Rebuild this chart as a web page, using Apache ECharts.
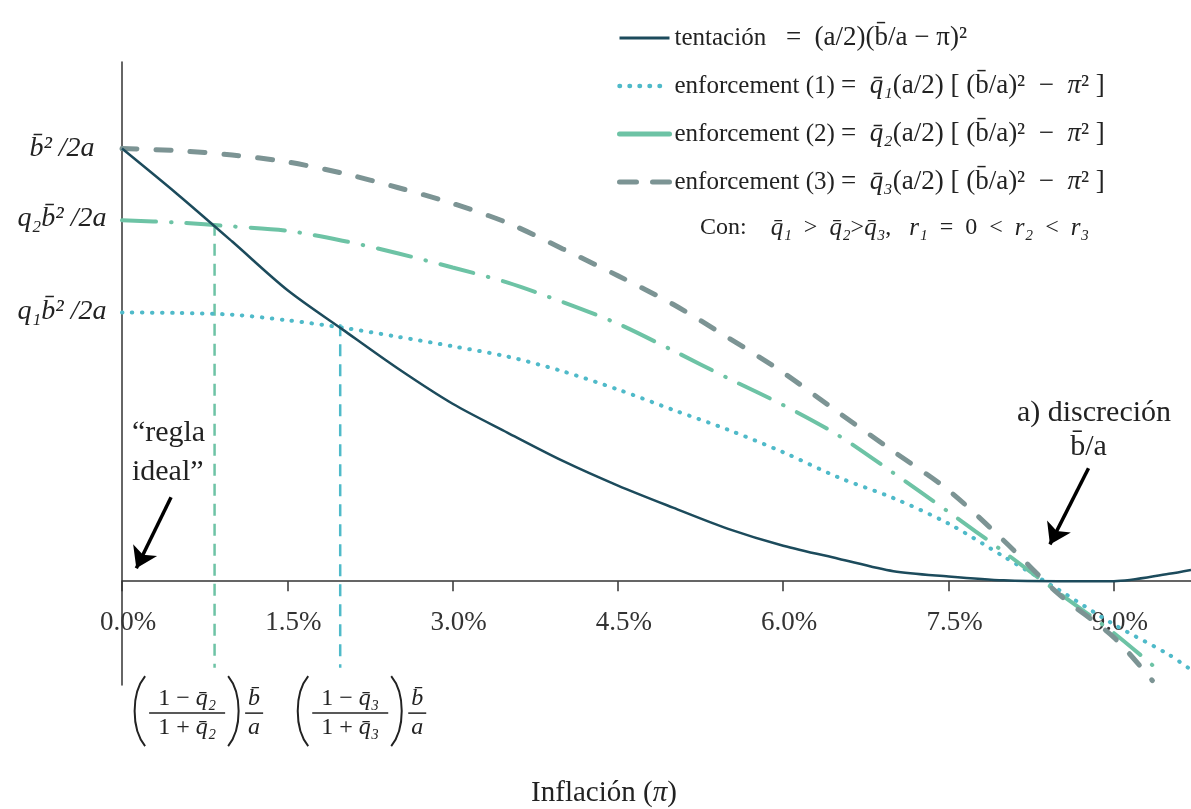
<!DOCTYPE html>
<html>
<head>
<meta charset="utf-8">
<script src="https://cdn.jsdelivr.net/npm/echarts@6/dist/echarts.min.js"></script>
<style>
  html, body { margin: 0; padding: 0; background: #fff; }
  #main { width: 1191px; height: 809px; }
</style>
</head>
<body>
<div id="main"></div>
<script>
// inflation grid (%), values in units of b^2/2a
var piGrid = [0, 0.5, 1, 1.5, 2, 2.5, 3, 3.5, 4, 4.5, 5, 5.5, 6, 6.5, 7, 7.5, 8, 8.5, 9, 9.5, 9.7];
var tentacion = [1.0, 0.895, 0.785, 0.673, 0.582, 0.492, 0.41, 0.343, 0.278, 0.221, 0.17, 0.121, 0.082, 0.052, 0.023, 0.011, 0.002, 0.0, 0.0, 0.017, 0.026];
var enforcement1 = [0.621, 0.62, 0.616, 0.603, 0.586, 0.565, 0.543, 0.519, 0.485, 0.443, 0.396, 0.35, 0.298, 0.24, 0.192, 0.133, 0.057, -0.02, -0.1, -0.17, -0.205];

var piGrid2 = [0, 0.5, 1, 1.5, 2, 2.5, 3, 3.5, 4, 4.5, 5, 5.5, 6, 6.5, 7, 7.5, 8, 8.5, 9, 9.4];
var enforcement2 = [0.834, 0.829, 0.82, 0.81, 0.787, 0.758, 0.725, 0.69, 0.645, 0.595, 0.533, 0.469, 0.407, 0.337, 0.25, 0.16, 0.068, -0.027, -0.12, -0.205];

var piGrid3 = [0, 0.5, 1, 1.5, 2, 2.5, 3, 3.5, 4, 4.5, 5, 5.5, 6, 6.5, 7, 7.5, 8, 8.5, 9, 9.35];
var enforcement3 = [1.0, 0.995, 0.985, 0.969, 0.943, 0.91, 0.873, 0.828, 0.768, 0.706, 0.64, 0.563, 0.482, 0.39, 0.3, 0.21, 0.094, -0.03, -0.13, -0.23];

var xTicks = [0, 1.5, 3, 4.5, 6, 7.5, 9];
var yTickValues = [0.624, 0.838, 1.0];
var yTickLabels = ['q₁b̄² /2a', 'q₂b̄² /2a', 'b̄² /2a'];

// vertical guides: x position, top value
var guideX = [0.84, 1.98];
var guideTop = [0.826, 0.594];
var guideBottom = -0.2;

var seriesNames = ['tentación', 'enforcement (1)', 'enforcement (2)', 'enforcement (3)'];
var legendFormulas = [
  '{m|  =  (a/2)(b̄/a − π)²}',
  '{m|=  }{i|q̄₁}{m|(a/2) [ (b̄/a)²  −  }{i|π}{m|² ]}',
  '{m|=  }{i|q̄₂}{m|(a/2) [ (b̄/a)²  −  }{i|π}{m|² ]}',
  '{m|=  }{i|q̄₃}{m|(a/2) [ (b̄/a)²  −  }{i|π}{m|² ]}'
];

var cDark = '#1c4b5c';
var cCyan = '#4fbac9';
var cGreen = '#6dc3a5';
var cGray = '#7c9494';
var FONT = '"Liberation Serif", "DejaVu Serif", serif';

function pairs(xs, ys) {
  return xs.map(function (x, i) { return [x, ys[i]]; });
}

var chartDom = document.getElementById('main');
var myChart = echarts.init(chartDom);
var option;

option = {
  animation: false,
  grid: { left: 122, right: 0, top: 62, bottom: 124, containLabel: false },
  legend: {
    data: [
      { name: seriesNames[0], lineStyle: { width: 3, type: 'solid' } },
      { name: seriesNames[1], lineStyle: { width: 4.5, type: [0.5, 9.5], cap: 'round' } },
      { name: seriesNames[2], lineStyle: { width: 5, type: 'solid', cap: 'round' } },
      { name: seriesNames[3], lineStyle: { width: 5, type: [17, 16], cap: 'round' } }
    ],
    orient: 'vertical',
    left: 612,
    top: 18,
    itemWidth: 50,
    itemHeight: 14,
    itemGap: 18,
    itemStyle: { opacity: 0 },
    formatter: function (name) {
      return '{t|' + name + ' }' + legendFormulas[seriesNames.indexOf(name)];
    },
    textStyle: {
      fontFamily: FONT, fontSize: 25, color: '#222', lineHeight: 30,
      rich: {
        t: { fontFamily: FONT, fontSize: 25, color: '#222', lineHeight: 30 },
        m: { fontFamily: FONT, fontSize: 27, color: '#222', lineHeight: 30 },
        i: { fontFamily: FONT, fontSize: 27, fontStyle: 'italic', color: '#222', lineHeight: 30 }
      }
    }
  },
  xAxis: {
    type: 'value',
    min: 0,
    max: 9.7,
    interval: 1.5,
    axisLine: { onZero: true, lineStyle: { color: '#333', width: 1.5 } },
    axisTick: { show: true, length: 10, customValues: xTicks, lineStyle: { color: '#333', width: 1.5 } },
    axisLabel: {
      customValues: xTicks,
      formatter: function (v) { return v.toFixed(1) + '%'; },
      fontFamily: FONT, fontSize: 27, color: '#333', margin: -76,
      padding: [0, 0, 0, 12]
    },
    splitLine: { show: false }
  },
  yAxis: {
    type: 'value',
    min: -0.24,
    max: 1.2,
    axisLine: { show: true, onZero: false, lineStyle: { color: '#333', width: 1.5 } },
    axisTick: { show: false },
    axisLabel: {
      customValues: yTickValues,
      formatter: function (v) {
        var idx = yTickValues.indexOf(v);
        return idx >= 0 ? yTickLabels[idx] : '';
      },
      align: 'center',
      margin: 60,
      fontFamily: FONT, fontSize: 28, fontStyle: 'italic', color: '#222'
    },
    splitLine: { show: false }
  },
  series: [
    {
      name: 'guia q2', type: 'line', symbol: 'none', silent: true, z: 1,
      data: [[guideX[0], guideTop[0]], [guideX[0], guideBottom]],
      lineStyle: { color: cGreen, width: 2.5, type: [12, 8] }
    },
    {
      name: 'guia q3', type: 'line', symbol: 'none', silent: true, z: 1,
      data: [[guideX[1], guideTop[1]], [guideX[1], guideBottom]],
      lineStyle: { color: cCyan, width: 2.5, type: [12, 8] }
    },
    {
      name: seriesNames[1], type: 'line', symbol: 'none', smooth: 0.3, z: 3,
      data: pairs(piGrid, enforcement1),
      itemStyle: { color: cCyan },
      lineStyle: { color: cCyan, width: 4, type: [0.5, 9.5], cap: 'round' }
    },
    {
      name: seriesNames[2], type: 'line', symbol: 'none', smooth: 0.3, z: 3,
      data: pairs(piGrid2, enforcement2),
      itemStyle: { color: cGreen },
      lineStyle: { color: cGreen, width: 4, type: [34, 15, 0.5, 15], cap: 'round' }
    },
    {
      name: seriesNames[3], type: 'line', symbol: 'none', smooth: 0.3, z: 3,
      data: pairs(piGrid3, enforcement3),
      itemStyle: { color: cGray },
      lineStyle: { color: cGray, width: 5, type: [15, 19], cap: 'round' }
    },
    {
      name: seriesNames[0], type: 'line', symbol: 'none', smooth: 0.3, z: 4,
      data: pairs(piGrid, tentacion),
      itemStyle: { color: cDark },
      lineStyle: { color: cDark, width: 2.5 },
      markLine: {
        silent: true,
        symbol: ['none', 'arrow'],
        symbolSize: 20,
        label: { show: false },
        lineStyle: { color: '#000', width: 3.5, type: 'solid' },
        data: [
          [{ coord: [0.445, 0.194] }, { coord: [0.13, 0.03] }],
          [{ coord: [8.77, 0.261] }, { coord: [8.42, 0.085] }]
        ]
      }
    }
  ]
};

option && myChart.setOption(option);

// annotations placed from data coordinates
function px(x, y) { return myChart.convertToPixel({ gridIndex: 0 }, [x, y]); }

var richMath = {
  n: { fontFamily: FONT, fontSize: 24, fill: '#222' },
  i: { fontFamily: FONT, fontSize: 24, fontStyle: 'italic', fill: '#222' }
};

function fraction(L, M, sub) {
  var ink = '#222';
  return [
    { type: 'bezierCurve', shape: { x1: L + 11, y1: M - 37, x2: L + 11, y2: M + 33, cpx1: L - 3, cpy1: M - 20, cpx2: L - 3, cpy2: M + 16 }, style: { stroke: ink, lineWidth: 2, fill: null } },
    { type: 'text', x: L + 53, y: M - 2, style: { text: '{n|1 − }{i|q̄' + sub + '}', align: 'center', verticalAlign: 'bottom', rich: richMath } },
    { type: 'line', shape: { x1: L + 15, y1: M, x2: L + 91, y2: M }, style: { stroke: ink, lineWidth: 1.5 } },
    { type: 'text', x: L + 53, y: M + 3, style: { text: '{n|1 + }{i|q̄' + sub + '}', align: 'center', verticalAlign: 'top', rich: richMath } },
    { type: 'bezierCurve', shape: { x1: L + 94, y1: M - 37, x2: L + 94, y2: M + 33, cpx1: L + 108, cpy1: M - 20, cpx2: L + 108, cpy2: M + 16 }, style: { stroke: ink, lineWidth: 2, fill: null } },
    { type: 'text', x: L + 120, y: M - 2, style: { text: '{i|b̄}', align: 'center', verticalAlign: 'bottom', rich: richMath } },
    { type: 'line', shape: { x1: L + 111, y1: M, x2: L + 129, y2: M }, style: { stroke: ink, lineWidth: 1.5 } },
    { type: 'text', x: L + 120, y: M + 3, style: { text: '{i|a}', align: 'center', verticalAlign: 'top', rich: richMath } }
  ];
}

var g = [];
var pRegla = px(0.09, 0.297);
g.push({ type: 'text', x: pRegla[0], y: pRegla[1], style: { text: '“regla\nideal”', font: '30px ' + FONT, fill: '#222', align: 'left', verticalAlign: 'middle', lineHeight: 39 } });
var pDisc = px(8.82, 0.388);
g.push({ type: 'text', x: pDisc[0], y: pDisc[1], style: { text: 'a) discreción', font: '30px ' + FONT, fill: '#222', align: 'center', verticalAlign: 'middle' } });
var pBa = px(8.77, 0.309);
g.push({ type: 'text', x: pBa[0], y: pBa[1], style: { text: 'b̄/a', font: '30px ' + FONT, fill: '#222', align: 'center', verticalAlign: 'middle' } });

var f1 = px(0.11, -0.305);
var f2 = px(1.59, -0.305);
g = g.concat(fraction(f1[0], f1[1], '₂'), fraction(f2[0], f2[1], '₃'));

g.push({
  type: 'text', x: 700, y: 228,
  style: {
    text: '{n|Con:    }{i|q̄₁}{n|  >  }{i|q̄₂}{n|>}{i|q̄₃}{n|,   }{i|r₁}{n|  =  0  <  }{i|r₂}{n|  <  }{i|r₃}',
    align: 'left', verticalAlign: 'middle',
    rich: {
      n: { fontFamily: FONT, fontSize: 24, fill: '#222' },
      i: { fontFamily: FONT, fontSize: 25, fontStyle: 'italic', fill: '#222' }
    }
  }
});
g.push({
  type: 'text', x: 604, y: 793,
  style: {
    text: '{n|Inflación (}{i|π}{n|)}', align: 'center', verticalAlign: 'middle',
    rich: {
      n: { fontFamily: FONT, fontSize: 29, fill: '#222' },
      i: { fontFamily: FONT, fontSize: 29, fontStyle: 'italic', fill: '#222' }
    }
  }
});

myChart.setOption({ graphic: { elements: g } });
</script>
</body>
</html>
